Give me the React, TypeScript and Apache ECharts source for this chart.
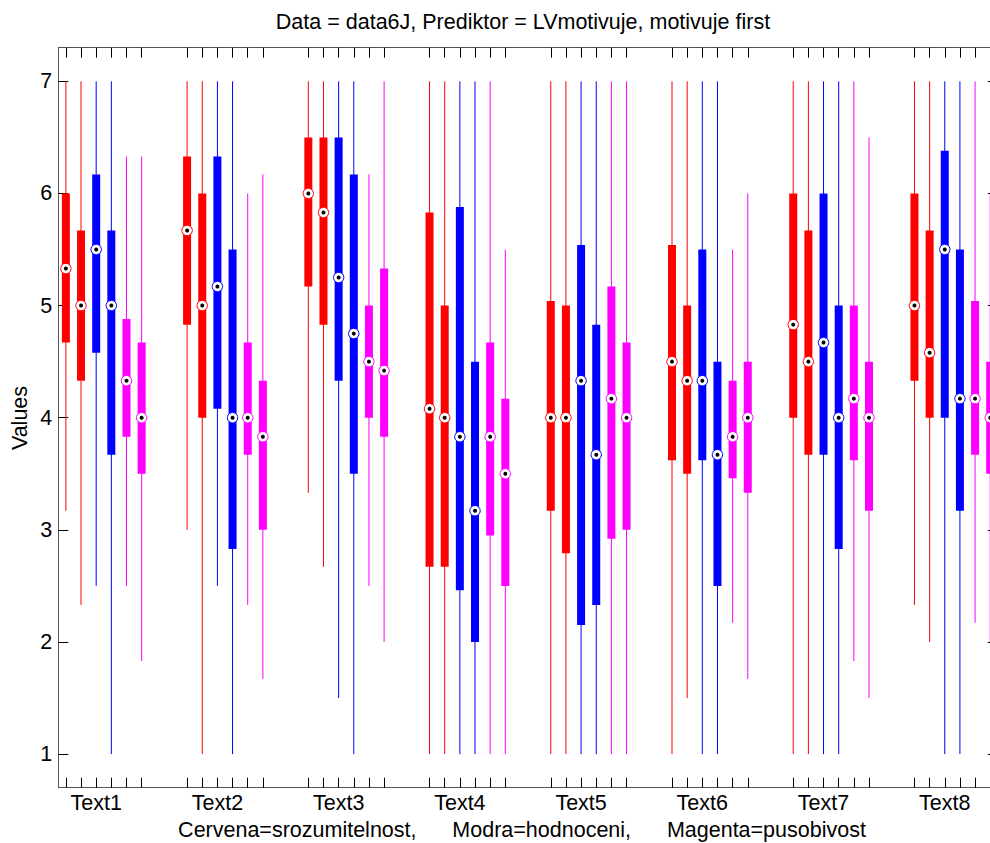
import React, { useEffect, useRef } from "react";
import * as echarts from "echarts";

// Group (category) labels
const groups = ["Text1", "Text2", "Text3", "Text4", "Text5", "Text6", "Text7", "Text8"];
const yTicks = [1, 2, 3, 4, 5, 6, 7];

// Five-number summaries per group: [min, q1, median, q3, max]
const red1 = [
  [3.17, 4.67, 5.33, 6, 7],
  [3, 4.83, 5.67, 6.33, 7],
  [3.33, 5.17, 6, 6.5, 7],
  [1, 2.67, 4.08, 5.83, 7],
  [1, 3.17, 4, 5.04, 7],
  [1, 3.62, 4.5, 5.54, 7],
  [1, 4, 4.83, 6, 7],
  [2.33, 4.33, 5, 6, 7],
];
const red2 = [
  [2.33, 4.33, 5, 5.67, 7],
  [1, 4, 5, 6, 7],
  [2.67, 4.83, 5.83, 6.5, 7],
  [1, 2.67, 4, 5, 7],
  [1, 2.79, 4, 5, 7],
  [1.5, 3.5, 4.33, 5, 7],
  [1, 3.67, 4.5, 5.67, 7],
  [2, 4, 4.58, 5.67, 7],
];
const blue1 = [
  [2.5, 4.58, 5.5, 6.17, 7],
  [2.5, 4.08, 5.17, 6.33, 7],
  [1.5, 4.33, 5.25, 6.5, 7],
  [1, 2.46, 3.83, 5.88, 7],
  [1, 2.15, 4.33, 5.54, 7],
  [1, 3.62, 4.33, 5.5, 7],
  [1, 3.67, 4.67, 6, 7],
  [1, 4, 5.5, 6.38, 7],
];
const blue2 = [
  [1, 3.67, 5, 5.67, 7],
  [1, 2.83, 4, 5.5, 7],
  [1, 3.5, 4.75, 6.17, 7],
  [1, 2, 3.17, 4.5, 7],
  [1, 2.33, 3.67, 4.83, 7],
  [1, 2.5, 3.67, 4.5, 7],
  [1, 2.83, 4, 5, 7],
  [1, 3.17, 4.17, 5.5, 7],
];
const magenta1 = [
  [2.5, 3.83, 4.33, 4.88, 6.33],
  [2.33, 3.67, 4, 4.67, 6],
  [2.5, 4, 4.5, 5, 6.17],
  [1, 2.95, 3.83, 4.67, 7],
  [1, 2.92, 4.17, 5.17, 7],
  [2.17, 3.46, 3.83, 4.33, 5.5],
  [1.83, 3.62, 4.17, 5, 7],
  [2.17, 3.67, 4.17, 5.04, 7],
];
const magenta2 = [
  [1.83, 3.5, 4, 4.67, 6.33],
  [1.67, 3, 3.83, 4.33, 6.17],
  [2, 3.83, 4.42, 5.33, 7],
  [1, 2.5, 3.5, 4.17, 5.5],
  [1, 3, 4, 4.67, 7],
  [1.67, 3.33, 4, 4.5, 6],
  [1.5, 3.17, 4, 4.5, 6.5],
  [2, 3.5, 4, 4.5, 6],
];

const boxSets = [red1, red2, blue1, blue2, magenta1, magenta2];
const boxColors = ["#ff0000", "#ff0000", "#0000ff", "#0000ff", "#ff00ff", "#ff00ff"];
const SLOTS = 8; // 6 boxes + 2 gap slots per group
const FONT = "'Liberation Sans', Arial, Helvetica, sans-serif";
const FS = 21.5;

export default function App() {
  const ref = useRef<HTMLDivElement>(null);

  useEffect(() => {
    if (!ref.current) return;
    const chart = echarts.init(ref.current, undefined, { renderer: "svg" });

    const nCat = groups.length * SLOTS - 2;
    const catData: string[] = [];
    for (let i = 0; i < nCat; i++) {
      const g = Math.floor(i / SLOTS);
      catData.push(i % SLOTS === 2 ? groups[g] : "");
    }
    const tickInterval = (i: number) => i % SLOTS < 6;

    const series = boxSets.map((set, k) => ({
      type: "custom",
      xAxisIndex: 0,
      yAxisIndex: 0,
      clip: false,
      encode: { x: 0, y: [1, 2, 3, 4, 5] },
      data: set.map((s, g) => [g * SLOTS + k, s[0], s[1], s[2], s[3], s[4]]),
      renderItem: (params: any, api: any) => {
        const x = api.value(0);
        const color = boxColors[k];
        const pMin = api.coord([x, api.value(1)]);
        const pQ1 = api.coord([x, api.value(2)]);
        const pMed = api.coord([x, api.value(3)]);
        const pQ3 = api.coord([x, api.value(4)]);
        const pMax = api.coord([x, api.value(5)]);
        const cx = pMed[0];
        return {
          type: "group",
          children: [
            {
              type: "line",
              shape: { x1: cx, y1: pMin[1], x2: cx, y2: pMax[1] },
              style: { stroke: color, lineWidth: 1 },
            },
            {
              type: "rect",
              shape: { x: cx - 4, y: pQ3[1], width: 8, height: pQ1[1] - pQ3[1] },
              style: { fill: color },
            },
            {
              type: "circle",
              shape: { cx, cy: pMed[1], r: 5.2 },
              style: { fill: "#ffffff", stroke: color, lineWidth: 1 },
            },
            {
              type: "circle",
              shape: { cx, cy: pMed[1], r: 2 },
              style: { fill: "#000000" },
            },
          ],
        };
      },
    }));

    const axisLine = { show: true, lineStyle: { color: "#555555", width: 1 } };

    chart.setOption({
      animation: false,
      backgroundColor: "#ffffff",
      grid: { left: 58.3, top: 47.7, width: 939.5, height: 740 },
      xAxis: [
        {
          type: "category",
          position: "bottom",
          data: catData,
          boundaryGap: true,
          axisLine,
          axisTick: {
            show: true,
            inside: true,
            length: 10,
            alignWithLabel: true,
            interval: tickInterval,
            lineStyle: { color: "#000000" },
          },
          axisLabel: {
            interval: 0,
            color: "#000000",
            fontSize: FS,
            fontFamily: FONT,
            margin: 4,
          },
          splitLine: { show: false },
        },
        {
          type: "category",
          position: "top",
          data: catData,
          boundaryGap: true,
          axisLine,
          axisTick: {
            show: true,
            inside: true,
            length: 10,
            alignWithLabel: true,
            interval: tickInterval,
            lineStyle: { color: "#000000" },
          },
          axisLabel: { show: false },
          splitLine: { show: false },
        },
      ],
      yAxis: [
        {
          type: "value",
          position: "left",
          min: 0.7,
          max: 7.3,
          axisLine,
          axisTick: {
            show: true,
            inside: true,
            length: 10,
            customValues: yTicks,
            lineStyle: { color: "#000000" },
          },
          axisLabel: {
            customValues: yTicks,
            color: "#000000",
            fontSize: FS,
            fontFamily: FONT,
            margin: 6,
          },
          splitLine: { show: false },
        },
        {
          type: "value",
          position: "right",
          min: 0.7,
          max: 7.3,
          axisLine,
          axisTick: {
            show: true,
            inside: true,
            length: 10,
            customValues: yTicks,
            lineStyle: { color: "#000000" },
          },
          axisLabel: { show: false },
          splitLine: { show: false },
        },
      ],
      graphic: [
        {
          type: "text",
          x: 523,
          y: 22,
          style: {
            text: "Data = data6J, Prediktor = LVmotivuje, motivuje first",
            fill: "#000000",
            font: `${FS}px ${FONT}`,
            textAlign: "center",
            textVerticalAlign: "middle",
          },
        },
        {
          type: "text",
          x: 20,
          y: 418,
          rotation: Math.PI / 2,
          style: {
            text: "Values",
            fill: "#000000",
            font: `${FS}px ${FONT}`,
            textAlign: "center",
            textVerticalAlign: "middle",
          },
        },
        {
          type: "text",
          x: 522,
          y: 830,
          style: {
            text: "Cervena=srozumitelnost,      Modra=hodnoceni,      Magenta=pusobivost",
            fill: "#000000",
            font: `${FS}px ${FONT}`,
            textAlign: "center",
            textVerticalAlign: "middle",
          },
        },
      ],
      series,
    });

    return () => chart.dispose();
  }, []);

  return (
    <div
      style={{
        position: "fixed",
        left: 0,
        top: 0,
        width: 990,
        height: 843,
        overflow: "hidden",
        background: "#ffffff",
      }}
    >
      <div ref={ref} style={{ width: 1000, height: 843 }} />
    </div>
  );
}
